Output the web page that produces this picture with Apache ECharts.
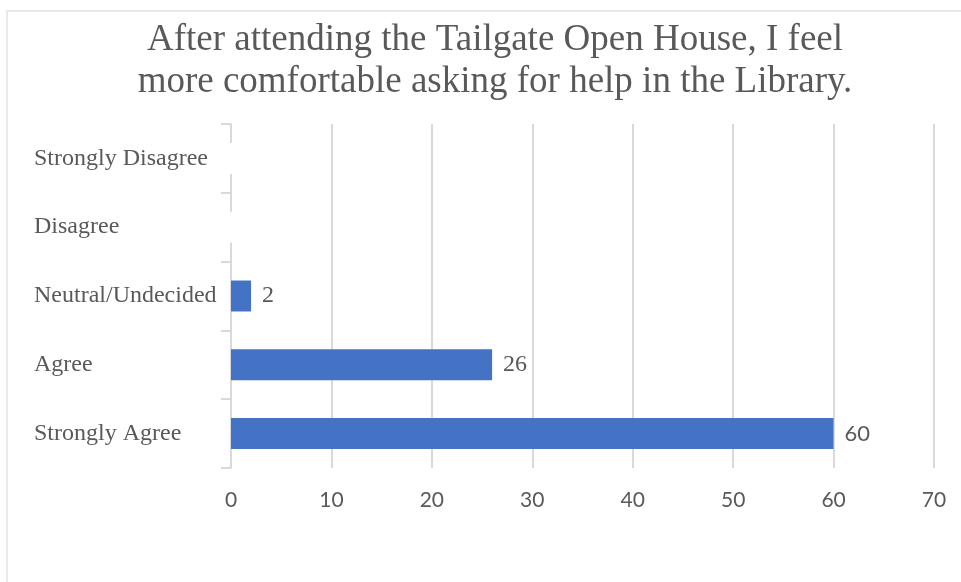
<!DOCTYPE html>
<html>
<head>
<meta charset="utf-8">
<script src="https://cdn.jsdelivr.net/npm/echarts@6/dist/echarts.min.js"></script>
<style>
  html, body { margin: 0; padding: 0; background: #fff; }
  #chart { width: 961px; height: 582px; }
</style>
</head>
<body>
<div id="chart"></div>
<script>
// Survey responses
const categories = ['Strongly Disagree', 'Disagree', 'Neutral/Undecided', 'Agree', 'Strongly Agree'];
const responses = [0, 0, 2, 26, 60];
const xTicks = { min: 0, max: 70, interval: 10 };
const titleText = 'After attending the Tailgate Open House, I feel\nmore comfortable asking for help in the Library.';

const serif = '"Liberation Serif", "Times New Roman", serif';
const sans = 'Lato, "Liberation Sans", sans-serif';
const textGrey = '#595959';
const lineGrey = '#d9d9d9';
const barBlue = '#4472C4';

const chart = echarts.init(document.getElementById('chart'), null, { renderer: 'canvas' });

// Value labels: the largest one is set in the sans face
const labelStyles = responses.map(v => (v >= 60
  ? { fontFamily: sans, fontSize: 22 }
  : { fontFamily: serif, fontSize: 24 }));

chart.setOption({
  animation: false,
  backgroundColor: '#ffffff',
  graphic: [{
    type: 'rect',
    shape: { x: 7, y: 11, width: 1000, height: 620 },
    style: { fill: 'none', stroke: '#e2e2e2', lineWidth: 1.5 },
    silent: true
  }],
  title: {
    text: titleText,
    left: 490,
    textAlign: 'center',
    top: 14,
    textStyle: {
      fontFamily: serif,
      fontSize: 37,
      fontWeight: 'normal',
      color: textGrey,
      lineHeight: 42
    }
  },
  grid: { left: 231, right: 27, top: 124, bottom: 114, containLabel: false },
  xAxis: {
    type: 'value',
    min: xTicks.min, max: xTicks.max, interval: xTicks.interval,
    axisLine: { show: false },
    axisTick: { show: false },
    splitLine: { show: true, lineStyle: { color: lineGrey, width: 2 } },
    axisLabel: { fontFamily: sans, fontSize: 21, color: textGrey, margin: 22 }
  },
  yAxis: {
    type: 'category',
    inverse: true,
    data: categories,
    axisLine: { show: true, lineStyle: { color: lineGrey, width: 2 } },
    axisTick: { show: true, length: 10, lineStyle: { color: lineGrey, width: 2 } },
    axisLabel: {
      fontFamily: serif, fontSize: 24, color: textGrey,
      align: 'left', margin: 197
    }
  },
  series: [
    {
      // white halo around each bar, drawn over the grid lines
      type: 'bar',
      data: responses,
      barWidth: 31,
      barGap: '-100%',
      itemStyle: { color: '#ffffff', borderColor: '#ffffff', borderWidth: 8 },
      silent: true,
      z: 2
    },
    {
      type: 'bar',
      data: responses.map((v, i) => ({
        value: v,
        label: labelStyles[i]
      })),
      barWidth: 31,
      barGap: '-100%',
      itemStyle: { color: barBlue },
      label: {
        show: true,
        position: 'right',
        distance: 11,
        color: textGrey,
        formatter: p => (p.value ? String(p.value) : '')
      },
      z: 3
    }
  ]
});
</script>
</body>
</html>
